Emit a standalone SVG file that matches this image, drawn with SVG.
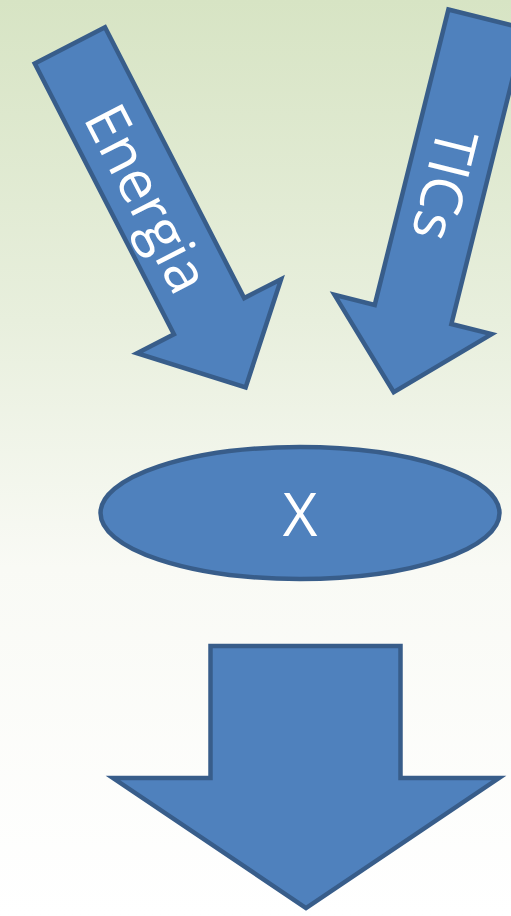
<svg xmlns="http://www.w3.org/2000/svg" width="511" height="916" viewBox="0 0 511 916">
  <defs>
    <linearGradient id="bg" x1="0" y1="0" x2="0" y2="1">
      <stop offset="0" stop-color="#d7e4c4"/>
      <stop offset="0.35" stop-color="#e8efdd"/>
      <stop offset="0.62" stop-color="#f9faf5"/>
      <stop offset="1" stop-color="#ffffff"/>
    </linearGradient>
    <path id="blockArrow" d="M-39.5,-387.5 H39.5 V-83 H81 L0,-3 L-81,-83 H-39.5 Z"/>
  </defs>
  <style>
    .shape { fill: #4f81bd; stroke: #385d8a; stroke-width: 4.5; stroke-linejoin: miter; }
    .label { fill: #ffffff; font-family: "Open Sans", "DejaVu Sans", sans-serif; text-anchor: middle; }
  </style>
  <rect x="0" y="0" width="511" height="916" fill="url(#bg)"/>

  <g id="node-energia">
    <use href="#blockArrow" class="shape" transform="translate(247,390) rotate(-27.2)"/>
    <text class="label" font-size="58" transform="translate(129,208) rotate(62.8)" x="0" y="0">Energia</text>
  </g>

  <g id="node-tics">
    <use href="#blockArrow" class="shape" transform="translate(393,395) rotate(14)"/>
    <text class="label" font-size="58" transform="translate(425,180) rotate(104)" x="0" y="0">TICs</text>
  </g>

  <g id="node-x">
    <ellipse class="shape" cx="300" cy="513" rx="199.5" ry="66"/>
    <text class="label" font-size="60" x="300" y="536">X</text>
  </g>

  <g id="connectors">
    <path id="arrow-down" class="shape" d="M210.5,646 H400.5 V778 H499 L306,908 L113,778 H210.5 Z"/>
  </g>
</svg>
